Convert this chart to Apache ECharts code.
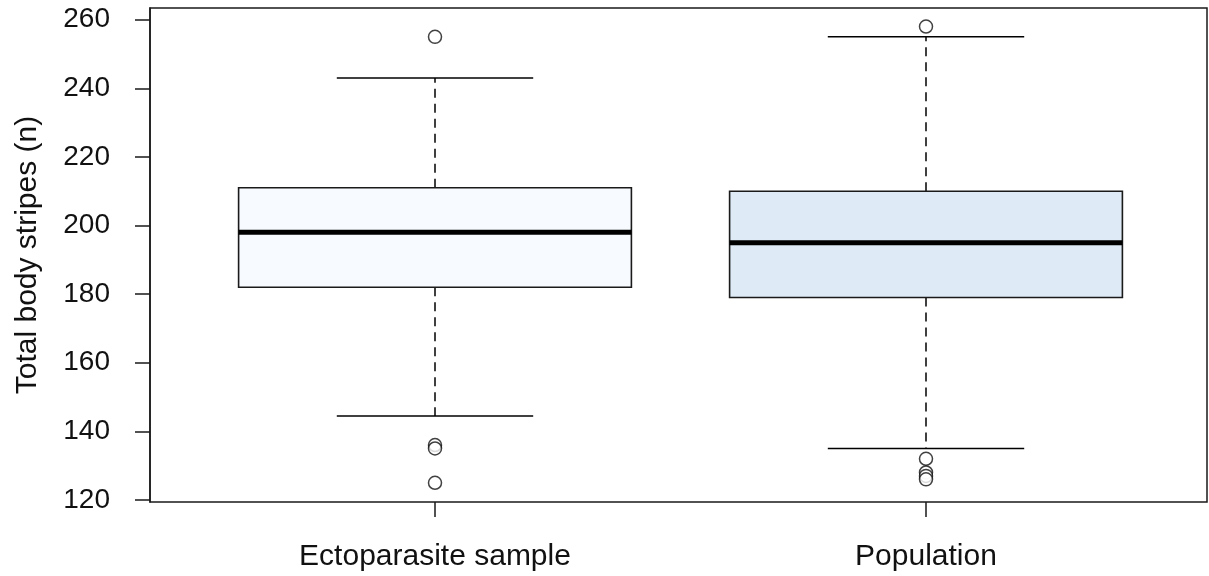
<!DOCTYPE html>
<html>
<head>
<meta charset="utf-8">
<title>Total body stripes</title>
<script src="https://cdn.jsdelivr.net/npm/echarts@6/dist/echarts.min.js"></script>
<style>
  html, body { margin: 0; padding: 0; background: #ffffff; }
  #chart { width: 1209px; height: 576px; }
</style>
</head>
<body>
<div id="chart"></div>
<script>
// Groups on the horizontal axis
var categories = ['Ectoparasite sample', 'Population'];

// Five-number summaries per group (whisker ends, quartiles, median)
var whiskerLow  = [144.5, 135];
var quartile1   = [182, 179];
var medians     = [198, 195];
var quartile3   = [211, 210];
var whiskerHigh = [243, 255];

// Points beyond the whiskers, per group
var outliersEcto = [255, 136, 135, 125];
var outliersPop  = [258, 132, 128, 127, 126];

// Y-axis tick labels
var yTicks = [120, 140, 160, 180, 200, 220, 240, 260];

// Fill of each box
var boxFills = ['#F7FBFF', '#DEEBF7'];

var yMin = 119.4, yMax = 263.4;
var FONT = "'Liberation Sans', Arial, sans-serif";

var boxData = categories.map(function (c, i) {
  return [i, whiskerLow[i], quartile1[i], medians[i], quartile3[i], whiskerHigh[i]];
});

var outlierData = [];
outliersEcto.forEach(function (v) { outlierData.push([0, v]); });
outliersPop.forEach(function (v) { outlierData.push([1, v]); });

function renderBox(params, api) {
  var x = api.value(0);
  var band = api.size([1, 0])[0];
  var half = band * 0.4;
  var capHalf = half / 2;
  var pLow = api.coord([x, api.value(1)]);
  var pQ1 = api.coord([x, api.value(2)]);
  var pMed = api.coord([x, api.value(3)]);
  var pQ3 = api.coord([x, api.value(4)]);
  var pHigh = api.coord([x, api.value(5)]);
  var cx = pMed[0];
  var black = '#000000';
  return {
    type: 'group',
    children: [
      // dashed whiskers
      { type: 'line', shape: { x1: cx, y1: pQ3[1], x2: cx, y2: pHigh[1] },
        style: { stroke: black, lineWidth: 1.5, lineDash: [9, 6] } },
      { type: 'line', shape: { x1: cx, y1: pQ1[1], x2: cx, y2: pLow[1] },
        style: { stroke: black, lineWidth: 1.5, lineDash: [9, 6] } },
      // whisker caps
      { type: 'line', shape: { x1: cx - capHalf, y1: pHigh[1], x2: cx + capHalf, y2: pHigh[1] },
        style: { stroke: black, lineWidth: 1.5 } },
      { type: 'line', shape: { x1: cx - capHalf, y1: pLow[1], x2: cx + capHalf, y2: pLow[1] },
        style: { stroke: black, lineWidth: 1.5 } },
      // box
      { type: 'rect', shape: { x: cx - half, y: pQ3[1], width: half * 2, height: pQ1[1] - pQ3[1] },
        style: { fill: boxFills[params.dataIndex], stroke: '#1a1a1a', lineWidth: 1.6 } },
      // median
      { type: 'line', shape: { x1: cx - half, y1: pMed[1], x2: cx + half, y2: pMed[1] },
        style: { stroke: black, lineWidth: 5 } }
    ]
  };
}

var chart = echarts.init(document.getElementById('chart'), null, { renderer: 'canvas' });

chart.setOption({
  animation: false,
  backgroundColor: '#ffffff',
  textStyle: { fontFamily: FONT },
  grid: [
    // plot frame with the y axis
    { left: 150, right: 2, top: 8, bottom: 74, show: true, borderColor: '#1a1a1a', borderWidth: 1.5,
      backgroundColor: 'transparent', containLabel: false },
    // band layout for the two groups
    { left: 189.5, right: 37.5, top: 8, bottom: 74, containLabel: false }
  ],
  xAxis: [
    { gridIndex: 0, type: 'value', show: false, min: 0, max: 1 },
    { gridIndex: 1, type: 'category', data: categories, boundaryGap: true,
      axisLine: { show: false },
      axisTick: { show: true, alignWithLabel: true, length: 15, lineStyle: { color: '#1a1a1a', width: 1.5 } },
      axisLabel: { color: '#111111', fontSize: 30, margin: 40, fontFamily: FONT },
      splitLine: { show: false } }
  ],
  yAxis: [
    { gridIndex: 0, type: 'value', min: yMin, max: yMax,
      axisLine: { show: true, lineStyle: { color: '#1a1a1a', width: 1.5 } },
      axisTick: { show: true, length: 15, customValues: yTicks, lineStyle: { color: '#1a1a1a', width: 1.5 } },
      axisLabel: { show: true, customValues: yTicks, color: '#111111', fontSize: 28, margin: 40, fontFamily: FONT },
      splitLine: { show: false },
      name: 'Total body stripes (n)', nameLocation: 'middle', nameGap: 107,
      nameTextStyle: { color: '#111111', fontSize: 30, fontFamily: FONT } },
    { gridIndex: 1, type: 'value', min: yMin, max: yMax, show: false, splitLine: { show: false } }
  ],
  series: [
    { type: 'custom', xAxisIndex: 1, yAxisIndex: 1, renderItem: renderBox, data: boxData, z: 2 },
    { type: 'scatter', xAxisIndex: 1, yAxisIndex: 1, data: outlierData, symbol: 'circle', symbolSize: 13,
      itemStyle: { color: '#ffffff', borderColor: '#111111', borderWidth: 1.5 }, z: 3 }
  ]
});
</script>
</body>
</html>
